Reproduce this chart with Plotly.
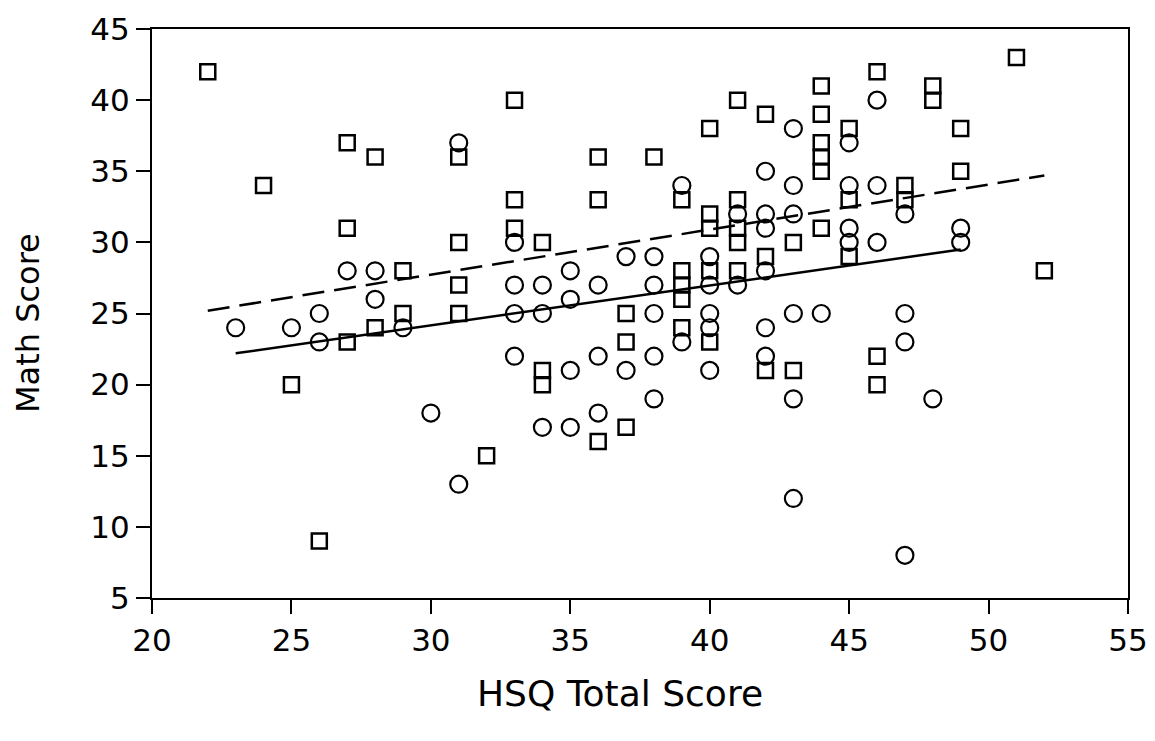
import plotly.graph_objects as go

# Group 1 (open squares)
sq_x = [22, 24, 25, 26, 27, 27, 27, 28, 28, 29, 29, 31, 31, 31, 31, 32,
        33, 33, 33, 34, 34, 34, 36, 36, 36, 37, 37, 37, 38,
        39, 39, 39, 39, 39, 40, 40, 40, 40, 40,
        41, 41, 41, 41, 41, 42, 42, 42, 43, 43,
        44, 44, 44, 44, 44, 44, 45, 45, 45, 46, 46, 46,
        47, 47, 48, 48, 49, 49, 51, 52]
sq_y = [42, 34, 20, 9, 37, 31, 23, 36, 24, 28, 25, 36, 30, 27, 25, 15,
        40, 33, 31, 30, 21, 20, 36, 33, 16, 25, 23, 17, 36,
        33, 28, 27, 26, 24, 38, 32, 31, 28, 23,
        40, 33, 31, 30, 28, 39, 29, 21, 30, 21,
        41, 39, 37, 36, 35, 31, 38, 33, 29, 42, 22, 20,
        34, 33, 41, 40, 38, 35, 43, 28]

# Group 2 (open circles)
ci_x = [23, 25, 26, 26, 27, 28, 28, 29, 30, 31, 31,
        33, 33, 33, 33, 34, 34, 34, 35, 35, 35, 35, 36, 36, 36,
        37, 37, 38, 38, 38, 38, 38, 39, 39,
        40, 40, 40, 40, 40, 41, 41,
        42, 42, 42, 42, 42, 42, 43, 43, 43, 43, 43, 43, 44,
        45, 45, 45, 45, 46, 46, 46, 47, 47, 47, 47, 48, 49, 49]
ci_y = [24, 24, 25, 23, 28, 28, 26, 24, 18, 37, 13,
        30, 27, 25, 22, 27, 25, 17, 28, 26, 21, 17, 27, 22, 18,
        29, 21, 29, 27, 25, 22, 19, 34, 23,
        29, 27, 25, 24, 21, 32, 27,
        35, 32, 31, 28, 24, 22, 38, 34, 32, 25, 19, 12, 25,
        37, 34, 31, 30, 40, 34, 30, 32, 25, 23, 8, 19, 31, 30]

# Fitted lines (endpoints)
fit_sq_x = [22, 52]
fit_sq_y = [25.2, 34.7]
fit_ci_x = [23, 49]
fit_ci_y = [22.2, 29.5]

x_ticks = [20, 25, 30, 35, 40, 45, 50, 55]
y_ticks = [5, 10, 15, 20, 25, 30, 35, 40, 45]
x_title = "HSQ Total Score"
y_title = "Math Score"

FONT = "DejaVu Sans"

fig = go.Figure()
fig.add_trace(go.Scatter(x=fit_sq_x, y=fit_sq_y, mode="lines",
                         line=dict(color="black", width=2.5, dash="22px,10px"),
                         showlegend=False, hoverinfo="skip"))
fig.add_trace(go.Scatter(x=fit_ci_x, y=fit_ci_y, mode="lines",
                         line=dict(color="black", width=2.5),
                         showlegend=False, hoverinfo="skip"))
fig.add_trace(go.Scatter(x=sq_x, y=sq_y, mode="markers",
                         marker=dict(symbol="square-open", size=15, color="black",
                                     line=dict(width=2.5, color="black")),
                         showlegend=False))
fig.add_trace(go.Scatter(x=ci_x, y=ci_y, mode="markers",
                         marker=dict(symbol="circle-open", size=17, color="black",
                                     line=dict(width=2.2, color="black")),
                         showlegend=False))

axis_common = dict(showgrid=False, zeroline=False, showline=True, linecolor="black",
                   linewidth=2, mirror=True, ticks="outside", ticklen=14, tickwidth=1.5,
                   tickcolor="black", automargin=False,
                   tickfont=dict(family=FONT, size=31, color="black"))

fig.update_xaxes(range=[20, 55], tickvals=x_ticks, **axis_common)
fig.update_yaxes(range=[5, 45], tickvals=y_ticks, **axis_common)

fig.add_annotation(text=x_title, xref="paper", yref="paper", x=0.4795, y=-0.167,
                   xanchor="center", yanchor="middle", showarrow=False,
                   font=dict(family=FONT, size=36, color="black"))
fig.add_annotation(text=y_title, xref="paper", yref="paper", x=-0.127, y=0.4833,
                   xanchor="center", yanchor="middle", textangle=-90, showarrow=False,
                   font=dict(family=FONT, size=32, color="black"))

fig.update_layout(width=1147, height=733, plot_bgcolor="white", paper_bgcolor="white",
                  margin=dict(l=144, r=27, t=21, b=143))

fig.write_html("out.html")
